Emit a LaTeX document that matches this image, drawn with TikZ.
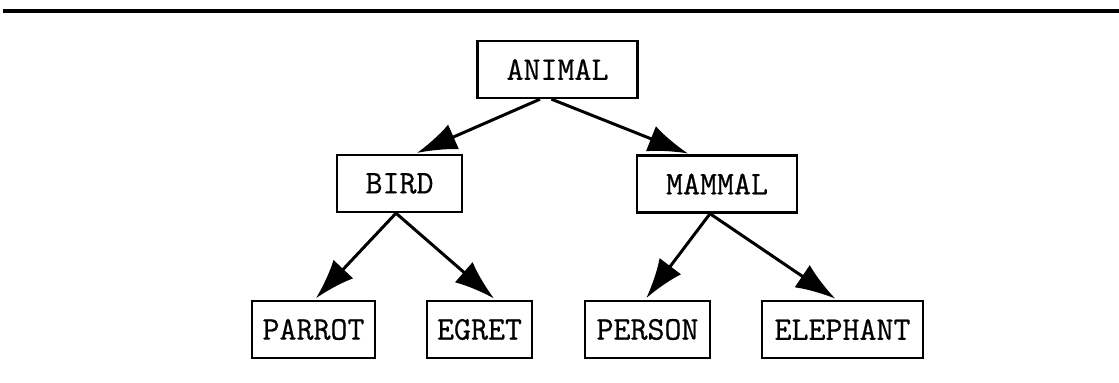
\documentclass[tikz,border=0pt]{standalone}
\usepackage{fontspec}
\setmonofont{Latin Modern Mono}[FakeBold=0.6]
\usepackage{tikz}
\usetikzlibrary{arrows.meta,positioning}

\tikzset{
	box/.style={draw, line width=1.2pt, minimum height=28.5pt, inner sep=0pt,
		font=\fontsize{16.5}{16.5}\selectfont\ttfamily},
	isa/.style={-{Latex[length=20pt,width=13.5pt]}, line width=1.5pt, shorten >=1pt}
}

\begin{document}
\begin{tikzpicture}[x=0.5pt, y=-0.5pt]
			\useasboundingbox (0,0) rectangle (1119,383);
			\draw [line width=2pt] (3,11) -- (1119,11);

			\node[box, minimum width=80pt] (animal) at (557.5, 69.5) {ANIMAL};
			\node[box, minimum width=62.5pt] (bird) at (399.5, 183.5) {BIRD};
			\node[box, minimum width=80pt] (mammal) at (717, 184) {MAMMAL};
			\node[box, minimum width=61.5pt] (parrot) at (313.5, 329.5) {PARROT};
			\node[box, minimum width=52.5pt] (egret) at (479.5, 329.5) {EGRET};
			\node[box, minimum width=62.5pt] (person) at (647.5, 329.5) {PERSON};
			\node[box, minimum width=80.5pt] (elephant) at (842.5, 329.5) {ELEPHANT};

			\draw [isa] ([xshift=-8.75pt]animal.south) to ([xshift=7.75pt]bird.north);
			\draw [isa] ([xshift=-3pt]animal.south) to ([xshift=-13.5pt]mammal.north);
			\draw [isa] ([xshift=-1.75pt]bird.south) to ([xshift=0.5pt]parrot.north);
			\draw [isa] ([xshift=-1.75pt]bird.south) to ([xshift=8pt]egret.north);
			\draw [isa] ([xshift=-3.5pt]mammal.south) to ([xshift=-1.25pt]person.north);
			\draw [isa] ([xshift=-3.5pt]mammal.south) to ([xshift=-2.75pt]elephant.north);
	\end{tikzpicture}
\end{document}
